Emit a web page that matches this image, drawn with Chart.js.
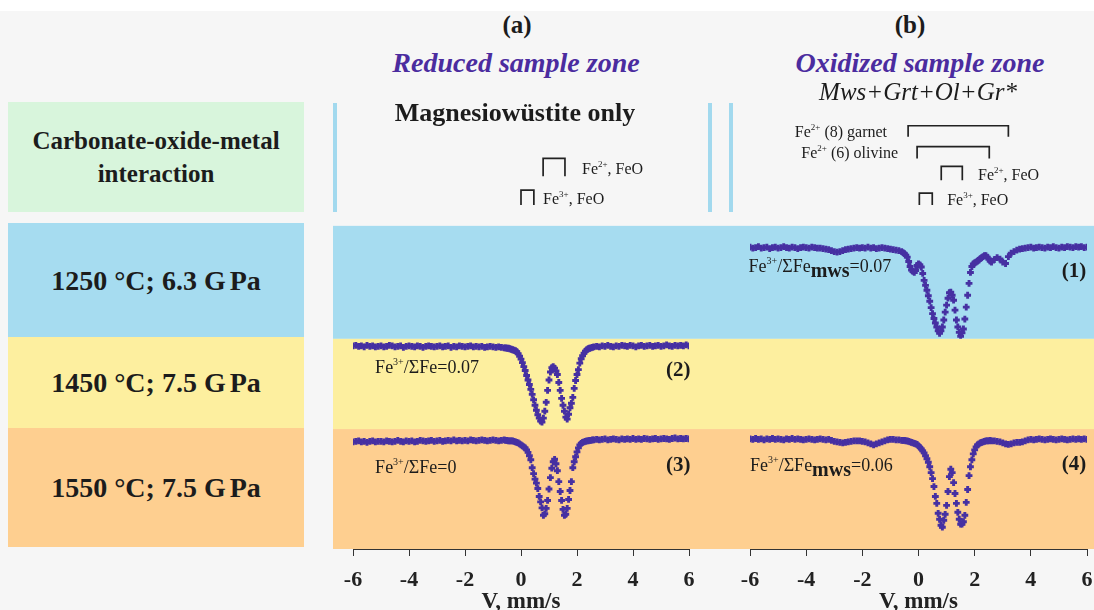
<!DOCTYPE html>
<html>
<head>
<meta charset="utf-8">
<script src="https://cdn.jsdelivr.net/npm/chart.js@4.4.0/dist/chart.umd.min.js"></script>
<style>
  html, body { margin: 0; padding: 0; }
  body { width: 1094px; height: 610px; overflow: hidden; position: relative; background: #f6f6f6;
         font-family: "Liberation Serif", serif; color: #1c1c1c; }
  .strip { position: absolute; left: 0; top: 0; width: 1094px; height: 11px; background: #fff; }
  .c { position: absolute; white-space: nowrap; transform: translate(-50%, -50%); z-index: 3; }
  .head { font-weight: bold; font-size: 25px; }
  .zone { font-weight: bold; font-style: italic; font-size: 28px; color: #4b2c9f; }
  .cell { position: absolute; left: 8px; width: 296px; display: flex; align-items: center; justify-content: center;
          text-align: center; font-weight: bold; font-size: 28px; line-height: 33px; }
  .bar { position: absolute; top: 103px; width: 4px; height: 109px; background: #a2d9ee; z-index: 3; }
  .wrap { position: absolute; top: 100px; }
</style>
</head>
<body>
<div class="strip"></div>

<div class="c head" style="left:517px; top:25px;">(a)</div>
<div class="c head" style="left:910px; top:25px;">(b)</div>
<div class="c zone" style="left:516px; top:63px;">Reduced sample zone</div>
<div class="c zone" style="left:920px; top:63px;">Oxidized sample zone</div>
<div class="c" style="left:918px; top:92px; font-style:italic; font-size:25px;">Mws+Grt+Ol+Gr*</div>
<div class="c" style="left:515px; top:113px; font-weight:bold; font-size:26px;">Magnesiowüstite only</div>

<div class="cell" style="top:102px; height:110px; background:#d8f5dc; font-size:25px; line-height:33px;">Carbonate-oxide-metal<br>interaction</div>
<div class="cell" style="top:223px; height:114px; background:#a6dcf0;">1250 °C; 6.3 G<span style="padding-left:4px">Pa</span></div>
<div class="cell" style="top:337px; height:91px; background:#fdef9f;">1450 °C; 7.5 G<span style="padding-left:4px">Pa</span></div>
<div class="cell" style="top:428px; height:119px; background:#fecf90;">1550 °C; 7.5 G<span style="padding-left:4px">Pa</span></div>

<div class="bar" style="left:333px;"></div>
<div class="bar" style="left:708px;"></div>
<div class="bar" style="left:729px;"></div>

<div class="wrap" style="left:333px;"><canvas id="chartA" width="378" height="516"></canvas></div>
<div class="wrap" style="left:711px;"><canvas id="chartB" width="383" height="516"></canvas></div>

<script>
// velocity channels, mm/s (finer step across the absorption lines)
const velocity = [
  -6, -5.9, -5.8, -5.7, -5.6, -5.5, -5.4, -5.3, -5.2, -5.1,
  -5, -4.9, -4.8, -4.7, -4.6, -4.5, -4.4, -4.3, -4.2, -4.1,
  -4, -3.9, -3.8, -3.7, -3.6, -3.5, -3.4, -3.3, -3.2, -3.1,
  -3, -2.9, -2.8, -2.7, -2.6, -2.5, -2.4, -2.3, -2.2, -2.1,
  -2, -1.9, -1.8, -1.7, -1.6, -1.5, -1.4, -1.3, -1.2, -1.1,
  -1, -0.9, -0.8, -0.7, -0.6,
  -0.55, -0.5, -0.45, -0.4, -0.35, -0.3, -0.25, -0.2, -0.15, -0.1,
  -0.05, 0, 0.05, 0.1, 0.15, 0.2, 0.25, 0.3, 0.35, 0.4,
  0.45, 0.5, 0.55, 0.6, 0.65, 0.7, 0.75, 0.8, 0.85, 0.9,
  0.95, 1, 1.05, 1.1, 1.15, 1.2, 1.25, 1.3, 1.35, 1.4,
  1.45, 1.5, 1.55, 1.6, 1.65, 1.7, 1.75, 1.8, 1.85, 1.9,
  1.95, 2, 2.05, 2.1, 2.15, 2.2, 2.25, 2.3, 2.35, 2.4,
  2.45, 2.5, 2.55, 2.6,
  2.7, 2.8, 2.9, 3, 3.1, 3.2, 3.3, 3.4, 3.5, 3.6,
  3.7, 3.8, 3.9, 4, 4.1, 4.2, 4.3, 4.4, 4.5, 4.6,
  4.7, 4.8, 4.9, 5, 5.1, 5.2, 5.3, 5.4, 5.5, 5.6,
  5.7, 5.8, 5.9, 6
];

// relative transmission, %
// (1) oxidized zone, 1250 °C; 6.3 GPa
const spec1 = [
  100.05, 99.95, 100, 100.1, 99.95, 100, 100.05, 99.9, 100, 100.05,
  99.95, 100, 100.1, 100, 99.95, 100.05, 100, 99.9, 100, 100.05,
  100, 99.95, 100.05, 100, 99.95, 99.95, 99.9, 99.85, 99.8, 99.7,
  99.6, 99.55, 99.6, 99.7, 99.8, 99.85, 99.9, 99.95, 100, 99.95,
  100, 99.95, 100.05, 99.95, 100, 99.9, 99.95, 100, 99.95, 99.9,
  99.85, 99.8, 99.75, 99.7, 99.6,
  99.5, 99.4, 99.25, 99.05, 98.6, 98.1, 97.75, 97.6, 97.5, 97.7,
  98.2, 98.35, 98.25, 98.05, 97.4, 96.7, 96.2, 95.7, 95.15, 94.6,
  93.95, 93.35, 92.85, 92.4, 92.0, 91.6, 91.35, 91.6, 92.0, 92.7,
  93.5, 94.2, 94.9, 95.45, 95.5, 95.2, 94.7, 93.7, 92.7, 92.0,
  91.45, 91.05, 91.4, 91.8, 92.8, 94.0, 95.2, 96.4, 97.5, 98.1,
  98.35, 98.45, 98.55, 98.65, 98.75, 98.9, 99.0, 99.1, 99.2, 99.2,
  99.05, 98.85, 98.65, 98.55,
  98.8, 99.0, 98.85, 98.55, 98.4, 99.1, 99.45, 99.6, 99.75, 99.85,
  99.9, 99.95, 100, 100.05, 99.95, 100, 100.05, 100, 99.95, 100.05,
  100, 100.1, 100, 99.95, 100.05, 100, 100.1, 100.05, 100, 100.1,
  100.05, 100.1, 100, 100.05
];
// (2) reduced zone, 1450 °C; 7.5 GPa
const spec2 = [
  100.05, 100.1, 100, 100.05, 99.95, 100.1, 100, 100.05, 99.95, 100,
  100.05, 99.95, 100, 100.1, 100.05, 99.95, 100, 100.05, 99.9, 100,
  100.05, 100, 99.95, 100.05, 100, 99.9, 100, 100.05, 100, 99.95,
  100, 100.05, 99.95, 100, 100.05, 99.9, 100, 99.95, 100.05, 100,
  99.95, 100, 100.05, 99.95, 100, 99.95, 100, 99.9, 99.95, 100,
  99.95, 99.9, 99.95, 99.9, 99.85,
  99.85, 99.8, 99.8, 99.75, 99.7, 99.65, 99.6, 99.55, 99.45, 99.25,
  99.0, 98.7, 98.35, 97.95, 97.55, 97.05, 96.6, 96.15, 95.65, 95.15,
  94.6, 94.05, 93.55, 93.1, 92.75, 92.45, 92.35, 92.75, 93.45, 94.35,
  95.55, 96.6, 97.4, 97.85, 97.95, 97.8, 97.5, 97.15, 96.35, 95.55,
  94.75, 94.05, 93.45, 92.85, 92.65, 93.15, 93.8, 94.25, 94.85, 95.75,
  96.55, 97.15, 97.65, 98.3, 98.75, 99.05, 99.3, 99.5, 99.65, 99.75,
  99.8, 99.85, 99.9, 99.95,
  100, 99.95, 100.05, 100, 100.1, 100, 99.95, 100.05, 100, 100.1,
  100.05, 100, 100.1, 100.05, 99.95, 100.05, 100.1, 100, 100.05, 100.1,
  100, 100.05, 100.1, 100, 100.05, 100.15, 100.05, 100, 100.1, 100.05,
  100.1, 100.05, 100.15, 100.05
];
// (3) reduced zone, 1550 °C; 7.5 GPa
const spec3 = [
  99.85, 99.9, 99.95, 99.85, 99.9, 99.8, 99.9, 99.95, 99.85, 99.9,
  99.9, 99.85, 99.95, 99.9, 99.85, 99.9, 100, 99.9, 99.85, 99.95,
  99.9, 99.95, 99.85, 99.9, 100, 99.95, 99.9, 99.95, 100, 99.9,
  99.95, 100, 99.9, 99.95, 100, 99.95, 100.05, 99.95, 100, 99.95,
  100, 99.95, 100.05, 100, 99.95, 100, 100.05, 100, 99.95, 100,
  100.05, 100, 99.95, 100, 100.05,
  100, 100, 99.95, 99.95, 99.95, 99.95, 99.9, 99.85, 99.8, 99.75,
  99.65, 99.55, 99.45, 99.35, 99.25, 99.05, 98.8, 98.45, 98.05, 97.25,
  96.65, 96.1, 95.7, 95.15, 94.35, 93.8, 93.2, 92.45, 92.6, 93.15,
  93.95, 95.1, 96.25, 97.2, 97.85, 98.1, 97.65, 96.95, 95.85, 94.85,
  93.95, 93.05, 92.45, 92.55, 93.15, 94.05, 94.95, 95.85, 97.25, 97.85,
  98.35, 98.85, 99.25, 99.55, 99.7, 99.8, 99.85, 99.9, 99.95, 99.95,
  100, 100, 100.05, 100.05,
  100.1, 100.05, 100.1, 100.15, 100.05, 100.1, 100.15, 100.1, 100.05, 100.15,
  100.1, 100.15, 100.1, 100.2, 100.1, 100.15, 100.1, 100.2, 100.15, 100.1,
  100.15, 100.2, 100.1, 100.15, 100.2, 100.15, 100.1, 100.2, 100.25, 100.15,
  100.2, 100.15, 100.2, 100.15
];
// (4) oxidized zone, 1550 °C; 7.5 GPa
const spec4 = [
  100.15, 100.1, 100.2, 100.1, 100.15, 100.05, 100.15, 100.1, 100.2, 100.1,
  100.15, 100.1, 100.05, 100.15, 100.1, 100.2, 100.1, 100.15, 100.1, 100.05,
  100.1, 100.15, 100.1, 100.05, 100.1, 100.15, 100.1, 100.05, 100.1, 100.0,
  99.9, 99.85, 99.8, 99.75, 99.8, 99.85, 99.9, 99.95, 99.95, 99.95,
  99.9, 99.85, 99.75, 99.65, 99.55, 99.65, 99.75, 99.85, 99.95, 100.05,
  100.1, 100.1, 100.05, 100.05, 100.0,
  100, 100, 99.95, 99.95, 99.9, 99.85, 99.8, 99.75, 99.7, 99.65,
  99.6, 99.45, 99.3, 99.15, 98.95, 98.75, 98.45, 98.15, 97.8, 97.35,
  96.75, 96.15, 95.35, 94.35, 93.65, 92.65, 92.05, 91.45, 91.25, 91.95,
  92.55, 93.45, 94.85, 96.35, 97.1, 96.75, 95.75, 94.65, 93.65, 92.75,
  92.05, 91.55, 91.55, 91.8, 92.45, 93.75, 95.05, 96.45, 97.35, 98.05,
  98.65, 99.05, 99.35, 99.55, 99.65, 99.75, 99.8, 99.85, 99.9, 99.95,
  99.95, 99.95, 100, 99.95,
  99.95, 99.9, 99.85, 99.75, 99.65, 99.6, 99.65, 99.75, 99.8, 99.8,
  99.85, 99.95, 100.05, 100.1, 100.05, 100.1, 100.15, 100.1, 100.05, 100.1,
  100.15, 100.1, 100.05, 100.1, 100.15, 100.1, 100.05, 100.1, 100.15, 100.1,
  100.15, 100.1, 100.15, 100.1
];

// doublet markers (line positions, mm/s)
const doubletNamesA = ['Fe2+, FeO', 'Fe3+, FeO'];
const doubletLeftA = [0.79, 0.0];
const doubletRightA = [1.57, 0.46];
const doubletNamesB = ['Fe2+ (8) garnet', 'Fe2+ (6) olivine', 'Fe2+, FeO', 'Fe3+, FeO'];
const doubletLeftB = [-0.37, -0.05, 0.81, 0.03];
const doubletRightB = [3.2, 2.52, 1.56, 0.49];

const xTicks = [-6, -4, -2, 0, 2, 4, 6];

const dotColor = '#4630a2';
const bandIds = ['yBlue', 'yYellow', 'yOrange'];
const bandColors = ['#a6dcf0', '#fdef9f', '#fecf90'];
const serif = '"Liberation Serif", serif';

function points(values) {
  return velocity.map((v, i) => ({ x: v, y: values[i] }));
}

function spectrum(values, axis) {
  return {
    data: points(values), yAxisID: axis, showLine: false,
    pointStyle: 'cross', pointRadius: 3.4, pointBorderWidth: 2.9,
    pointBorderColor: dotColor, pointBackgroundColor: dotColor
  };
}

function bracket(from, to, top, foot) {
  return {
    type: 'line', yAxisID: 'yHead', showLine: true, pointRadius: 0,
    borderColor: '#222', borderWidth: 1.7, tension: 0,
    data: [{ x: from, y: foot }, { x: from, y: top }, { x: to, y: top }, { x: to, y: foot }]
  };
}

// text with superscript / subscript pieces, anchored at a baseline
function drawParts(ctx, parts, x, y, align) {
  let w = 0;
  parts.forEach(p => { ctx.font = p.f; w += ctx.measureText(p.t).width; });
  let cx = align === 'right' ? x - w : x;
  ctx.textAlign = 'left';
  ctx.textBaseline = 'alphabetic';
  parts.forEach(p => {
    ctx.font = p.f;
    ctx.fillText(p.t, cx, y + (p.dy || 0));
    cx += ctx.measureText(p.t).width;
  });
}

function feParts(name, size) {
  // 'Fe2+ (8) garnet' -> Fe + superscript charge + rest
  const ion = name.slice(2, 4);
  return [
    { t: 'Fe', f: size + 'px ' + serif },
    { t: ion, f: Math.round(size * 0.55) + 'px ' + serif, dy: -Math.round(size * 0.45) },
    { t: name.slice(4), f: size + 'px ' + serif }
  ];
}

function ratioParts(sub, value) {
  const p = [
    { t: 'Fe', f: '18px ' + serif },
    { t: '3+', f: '10px ' + serif, dy: -8 },
    { t: '/ΣFe', f: '18px ' + serif }
  ];
  if (sub) p.push({ t: sub, f: 'bold 20px ' + serif, dy: 5 });
  p.push({ t: '=' + value, f: '18px ' + serif });
  return p;
}

const bandPlugin = {
  id: 'bands',
  beforeDraw(chart) {
    const ctx = chart.ctx;
    ctx.save();
    bandIds.forEach((id, i) => {
      const s = chart.scales[id];
      ctx.fillStyle = bandColors[i];
      ctx.fillRect(0, s.top, chart.width, s.bottom - s.top);
    });
    ctx.restore();
  }
};

function labelPlugin(items) {
  return {
    id: 'labels',
    afterDatasetsDraw(chart) {
      const ctx = chart.ctx;
      ctx.save();
      ctx.fillStyle = '#1c1c1c';
      items.forEach(it => {
        const x = chart.scales.x.getPixelForValue(it.v);
        const y = chart.scales[it.axis].getPixelForValue(it.y);
        drawParts(ctx, it.parts, x, y, it.align);
      });
      ctx.restore();
    }
  };
}

function scales() {
  const hidden = (weight, stackWeight, min, max, reverse) => ({
    type: 'linear', display: false, position: 'left', stack: 'rows',
    weight: weight, stackWeight: stackWeight, min: min, max: max, reverse: !!reverse
  });
  return {
    x: {
      type: 'linear', position: 'bottom', min: -6, max: 6,
      afterBuildTicks: axis => { axis.ticks = xTicks.map(v => ({ value: v })); },
      afterFit: axis => { axis.height = 67; axis.paddingLeft = 0; axis.paddingRight = 0; },
      ticks: { color: '#222', padding: 11, maxRotation: 0, autoSkip: false,
               font: { family: serif, size: 22, weight: 'bold' } },
      grid: { drawOnChartArea: false, tickLength: 7, color: '#333', lineWidth: 1 },
      border: { color: '#333', width: 1 },
      title: { display: true, text: 'V, mm/s', color: '#222', padding: { top: 0, bottom: 0 },
               font: { family: serif, size: 23, weight: 'bold' } }
    },
    yHead: hidden(4, 120, 0, 12, true),
    yBlue: hidden(3, 114, 90.8, 102.2),
    yYellow: hidden(2, 91, 91.65, 100.75),
    yOrange: hidden(1, 121, 89.05, 101.15)
  };
}

function options(pad) {
  return {
    responsive: false, animation: false, events: [],
    devicePixelRatio: 1,
    layout: { padding: pad },
    plugins: { legend: { display: false }, tooltip: { enabled: false } },
    scales: scales()
  };
}

// panel (a): reduced sample zone
const rowsA = [[5.2, 7.0], [8.4, 9.9]];
new Chart(document.getElementById('chartA'), {
  type: 'scatter',
  data: {
    datasets: [
      spectrum(spec2, 'yYellow'),
      spectrum(spec3, 'yOrange'),
      ...doubletLeftA.map((v, i) => bracket(v, doubletRightA[i], rowsA[i][0], rowsA[i][1]))
    ]
  },
  options: options({ left: 20, right: 22, top: 3, bottom: 0 }),
  plugins: [bandPlugin, labelPlugin([
    { v: 2.18, axis: 'yHead', y: 6.8, parts: feParts(doubletNamesA[0], 16) },
    { v: 0.79, axis: 'yHead', y: 9.8, parts: feParts(doubletNamesA[1], 16) },
    { v: -5.21, axis: 'yYellow', y: 97.35, parts: ratioParts('', '0.07') },
    { v: 6.05, axis: 'yYellow', y: 97.05, align: 'right', parts: [{ t: '(2)', f: 'bold 21px ' + serif }] },
    { v: -5.21, axis: 'yOrange', y: 96.75, parts: ratioParts('', '0') },
    { v: 6.05, axis: 'yOrange', y: 96.95, align: 'right', parts: [{ t: '(3)', f: 'bold 21px ' + serif }] }
  ])]
});

// panel (b): oxidized sample zone
const rowsB = [[1.9, 3.0], [4.0, 5.2], [6.0, 7.4], [8.7, 9.9]];
new Chart(document.getElementById('chartB'), {
  type: 'scatter',
  data: {
    datasets: [
      spectrum(spec1, 'yBlue'),
      spectrum(spec4, 'yOrange'),
      ...doubletLeftB.map((v, i) => bracket(v, doubletRightB[i], rowsB[i][0], rowsB[i][1]))
    ]
  },
  options: options({ left: 39, right: 7, top: 3, bottom: 0 }),
  plugins: [bandPlugin, labelPlugin([
    { v: -1.12, axis: 'yHead', y: 3.0, align: 'right', parts: feParts(doubletNamesB[0], 16) },
    { v: -0.73, axis: 'yHead', y: 5.2, align: 'right', parts: feParts(doubletNamesB[1], 16) },
    { v: 2.12, axis: 'yHead', y: 7.4, parts: feParts(doubletNamesB[2], 16) },
    { v: 1.02, axis: 'yHead', y: 9.9, parts: feParts(doubletNamesB[3], 16) },
    { v: -6.05, axis: 'yBlue', y: 97.5, parts: ratioParts('mws', '0.07') },
    { v: 5.97, axis: 'yBlue', y: 97.0, align: 'right', parts: [{ t: '(1)', f: 'bold 21px ' + serif }] },
    { v: -6.0, axis: 'yOrange', y: 96.95, parts: ratioParts('mws', '0.06') },
    { v: 5.97, axis: 'yOrange', y: 97.05, align: 'right', parts: [{ t: '(4)', f: 'bold 21px ' + serif }] }
  ])]
});
</script>
</body>
</html>
